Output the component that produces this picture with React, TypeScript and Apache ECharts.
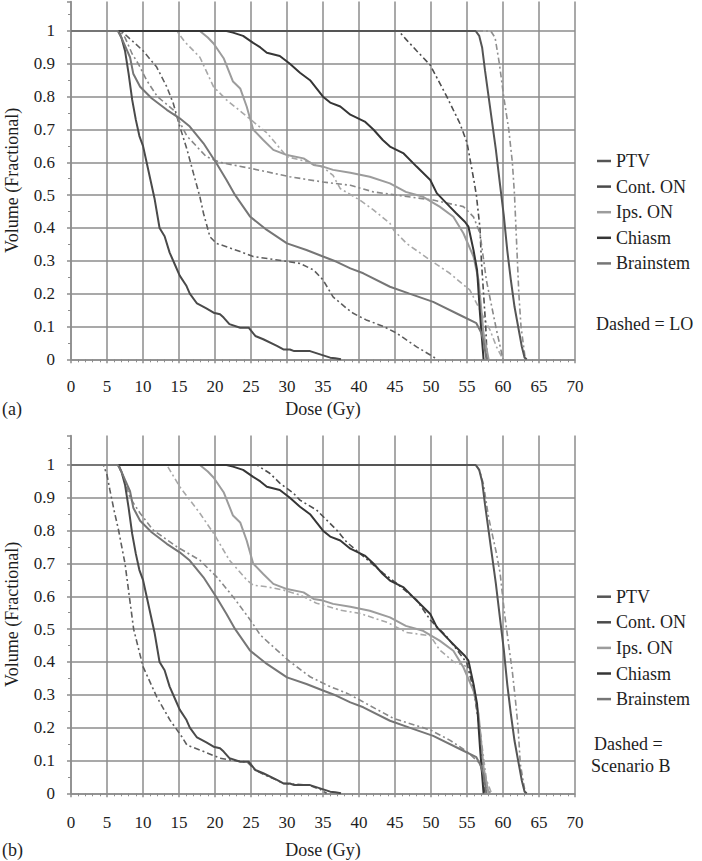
import React, { useEffect, useRef } from "react";
import * as echarts from "echarts";

const FONT = "Liberation Serif";
const GRID_COLOR = "#8c8c8c";
const TEXT_COLOR = "#1e1e1e";

// Axis settings
const doseMin = 0;
const doseMax = 70;
const doseStep = 5;
const volMin = 0;
const volMax = 1.09;
const volStep = 0.1;

const structureNames = ["PTV", "Cont. ON", "Ips. ON", "Chiasm", "Brainstem"];
const solidColors = ["#555555", "#4a4a4a", "#9c9c9c", "#363636", "#767676"];
const dashedColors = ["#8f8f8f", "#5e5e5e", "#a8a8a8", "#4e4e4e", "#888888"];

// ---- Reference plan (solid), identical in both panels: [dose Gy, volume] ----
const ptv = [[0, 1], [56.2, 1], [56.7, 0.985], [57.1, 0.95], [57.5, 0.88], [58, 0.8], [58.5, 0.72], [59, 0.64], [59.6, 0.53], [60.1, 0.44], [60.6, 0.33], [61.1, 0.24], [61.6, 0.16], [62.1, 0.1], [62.6, 0.04], [63, 0.005], [63.3, 0]];
const contON = [[0, 1], [6.6, 1], [7, 0.98], [7.5, 0.94], [8, 0.87], [8.5, 0.79], [9, 0.73], [9.5, 0.68], [10, 0.65], [10.5, 0.6], [11, 0.55], [11.6, 0.49], [12.3, 0.4], [13, 0.375], [13.7, 0.325], [14.5, 0.285], [15.1, 0.255], [16, 0.225], [16.5, 0.2], [17.5, 0.17], [18.8, 0.155], [19.8, 0.142], [20.7, 0.137], [21.2, 0.127], [22, 0.107], [23.5, 0.096], [24.7, 0.096], [25.6, 0.071], [26.7, 0.061], [28.6, 0.041], [29.5, 0.03], [30.4, 0.03], [31, 0.025], [33.2, 0.025], [34.6, 0.015], [36, 0.005], [36.7, 0.003], [37.5, 0]];
const ipsON = [[0, 1], [17.9, 1], [19, 0.98], [19.8, 0.962], [21.2, 0.917], [22.5, 0.846], [23.5, 0.825], [24.4, 0.77], [25.3, 0.7], [26.7, 0.668], [28.1, 0.638], [30, 0.622], [32.3, 0.612], [33.7, 0.592], [35, 0.587], [36.4, 0.577], [38.8, 0.568], [41.5, 0.556], [44.3, 0.536], [46.5, 0.51], [48.9, 0.495], [51.2, 0.465], [53.1, 0.434], [54.5, 0.384], [55.9, 0.313], [56.6, 0.242], [57.3, 0.079], [58, 0]];
const chiasm = [[0, 1], [21.6, 1], [22.5, 0.995], [23.9, 0.985], [25.3, 0.964], [26.3, 0.95], [27.2, 0.934], [29, 0.924], [30.4, 0.9], [31.8, 0.873], [33.2, 0.85], [35, 0.8], [36, 0.782], [37.4, 0.77], [38.8, 0.745], [40.8, 0.724], [42, 0.7], [43.3, 0.668], [44.3, 0.648], [46.2, 0.627], [48, 0.587], [49.9, 0.546], [50.8, 0.506], [52.6, 0.465], [53.5, 0.445], [54.7, 0.419], [55.2, 0.404], [55.9, 0.333], [56.4, 0.272], [56.8, 0.14], [57.3, 0]];
const brainstem = [[0, 1], [6.5, 1], [7, 0.98], [7.6, 0.95], [8.2, 0.92], [8.65, 0.87], [9.6, 0.83], [11.2, 0.795], [13.3, 0.76], [15.1, 0.734], [16.5, 0.709], [18.4, 0.658], [20.2, 0.597], [21.6, 0.546], [22.8, 0.5], [24.9, 0.434], [27.2, 0.394], [30, 0.353], [32.7, 0.333], [35, 0.313], [36.9, 0.297], [38.8, 0.277], [40.6, 0.262], [44.3, 0.221], [47, 0.2], [50.3, 0.175], [54, 0.135], [56.3, 0.11], [57, 0.08], [57.3, 0.055], [57.7, 0]];

// ---- Panel (a): LO plan (dashed) ----
const ptvLO = [[0, 1], [58.3, 1], [58.9, 0.98], [59.5, 0.9], [60.1, 0.8], [60.8, 0.7], [61.3, 0.6], [61.6, 0.5], [61.8, 0.4], [62, 0.3], [62.2, 0.2], [62.5, 0.1], [63.1, 0]];
const contONLO = [[0, 1], [7, 1], [8.5, 0.97], [10, 0.94], [11.9, 0.89], [13.3, 0.83], [14.2, 0.78], [15.1, 0.71], [16.1, 0.64], [17, 0.567], [17.9, 0.495], [18.4, 0.445], [19.3, 0.373], [20.2, 0.353], [21.6, 0.343], [23.5, 0.328], [25.3, 0.313], [29.5, 0.3], [31.8, 0.292], [33.7, 0.272], [35, 0.242], [36.4, 0.19], [38.3, 0.155], [39.2, 0.14], [41, 0.12], [43.4, 0.1], [45.2, 0.08], [48, 0.038], [50.3, 0.008], [50.8, 0]];
const ipsONLO = [[0, 1], [14.7, 1], [15.8, 0.967], [17.9, 0.92], [19.8, 0.83], [21.6, 0.79], [24.4, 0.74], [27.2, 0.69], [30, 0.617], [33.7, 0.597], [35, 0.585], [36.4, 0.56], [37.4, 0.52], [40.1, 0.485], [42, 0.455], [44.3, 0.414], [44.8, 0.394], [46.6, 0.353], [49.9, 0.302], [52.6, 0.262], [55.4, 0.211], [56.8, 0.15], [58.2, 0.089], [59.1, 0.038], [60, 0]];
const chiasmLO = [[0, 1], [45.5, 1], [46.6, 0.973], [48, 0.94], [49.9, 0.896], [51, 0.85], [52.2, 0.8], [53.2, 0.755], [54, 0.719], [55, 0.66], [55.5, 0.6], [56, 0.54], [56.3, 0.5], [56.8, 0.4], [57, 0.3], [57.3, 0.2], [57.6, 0.1], [57.8, 0]];
const brainstemLO = [[0, 1], [6.8, 1], [7.5, 0.98], [8.5, 0.93], [9.35, 0.9], [10.5, 0.85], [12, 0.8], [14.2, 0.76], [16.1, 0.68], [18.8, 0.617], [20.7, 0.6], [25.3, 0.58], [30.4, 0.556], [35, 0.54], [38.8, 0.53], [42, 0.51], [45.2, 0.5], [50.3, 0.485], [54.5, 0.465], [55.9, 0.434], [56.8, 0.384], [57.7, 0.24], [59.1, 0.089], [60, 0]];

// ---- Panel (b): Scenario B (dashed) ----
const ptvB = [[0, 1], [56.3, 1], [56.8, 0.98], [57.3, 0.94], [58, 0.84], [59.1, 0.73], [59.6, 0.67], [60.2, 0.55], [60.8, 0.45], [61.3, 0.37], [61.7, 0.29], [62.1, 0.2], [62.4, 0.09], [63.1, 0]];
const contONB = [[0, 1], [4.5, 1], [5, 0.97], [5.4, 0.924], [6, 0.86], [6.6, 0.802], [7.5, 0.7], [8.1, 0.6], [8.7, 0.5], [10, 0.386], [11.9, 0.294], [13.75, 0.223], [15.4, 0.172], [16.1, 0.147], [17.9, 0.132], [20.7, 0.107], [22.5, 0.1], [24.5, 0.095], [25.5, 0.072], [27, 0.055], [28.6, 0.04], [29.5, 0.03], [33, 0.025], [34.6, 0.012], [35.5, 0]];
const ipsONB = [[0, 1], [13.3, 1], [15.1, 0.934], [17.9, 0.853], [19.8, 0.792], [22, 0.71], [24.4, 0.65], [25.3, 0.634], [27.2, 0.629], [29.5, 0.619], [31.8, 0.604], [34.1, 0.579], [37.4, 0.558], [40.1, 0.548], [44, 0.52], [46.6, 0.49], [49.9, 0.48], [51.2, 0.437], [53.1, 0.401], [55, 0.386], [55.9, 0.335], [56.8, 0.193], [57.7, 0.041], [58.4, 0]];
const chiasmB = [[0, 1], [25.8, 1], [27.6, 0.975], [29, 0.945], [30.9, 0.914], [31.8, 0.893], [34.1, 0.863], [36.9, 0.802], [38.3, 0.765], [40.1, 0.731], [43.4, 0.67], [45.2, 0.64], [48, 0.589], [49.9, 0.528], [52.2, 0.477], [53.6, 0.437], [55, 0.396], [55.9, 0.315], [56.8, 0.193], [57.5, 0]];
const brainstemB = [[0, 1], [6.5, 1], [7.2, 0.97], [8.2, 0.9], [9.6, 0.853], [11.4, 0.802], [14.7, 0.751], [17.9, 0.71], [20.2, 0.66], [22.5, 0.599], [24.9, 0.528], [26.3, 0.482], [28.6, 0.436], [30.4, 0.401], [33.2, 0.355], [36, 0.325], [38.3, 0.305], [40.1, 0.284], [44.8, 0.228], [49.9, 0.193], [52.6, 0.162], [55, 0.127], [56.8, 0.091], [57.5, 0.03], [58.2, 0]];

const solidData = [ptv, contON, ipsON, chiasm, brainstem];
const loData = [ptvLO, contONLO, ipsONLO, chiasmLO, brainstemLO];
const scenarioBData = [ptvB, contONB, ipsONB, chiasmB, brainstemB];

function makeXAxis(gridIndex: number, labelMargin: number, nameGap: number) {
  return {
    type: "value",
    gridIndex,
    min: doseMin,
    max: doseMax,
    interval: doseStep,
    name: "Dose (Gy)",
    nameLocation: "middle",
    nameGap,
    nameTextStyle: { fontFamily: FONT, fontSize: 18, color: TEXT_COLOR },
    axisLine: { show: true, lineStyle: { color: GRID_COLOR, width: 1.5 } },
    axisTick: { show: true, length: 4, lineStyle: { color: GRID_COLOR, width: 1.5 } },
    minorTick: { show: true, splitNumber: 5, length: 3, lineStyle: { color: GRID_COLOR, width: 1 } },
    axisLabel: { margin: labelMargin, fontFamily: FONT, fontSize: 17, color: TEXT_COLOR },
    splitLine: { show: true, lineStyle: { color: GRID_COLOR, width: 1.5 } },
  };
}

function makeYAxis(gridIndex: number) {
  return {
    type: "value",
    gridIndex,
    min: volMin,
    max: volMax,
    interval: volStep,
    name: "Volume (Fractional)",
    nameLocation: "middle",
    nameGap: 50,
    nameTextStyle: { fontFamily: FONT, fontSize: 18, color: TEXT_COLOR },
    axisLine: { show: true, lineStyle: { color: GRID_COLOR, width: 1.5 } },
    axisTick: { show: true, length: 4, lineStyle: { color: GRID_COLOR, width: 1.5 } },
    minorTick: { show: true, splitNumber: 2, length: 3, lineStyle: { color: GRID_COLOR, width: 1 } },
    axisLabel: {
      margin: 16,
      fontFamily: FONT,
      fontSize: 17,
      color: TEXT_COLOR,
      showMaxLabel: false,
      formatter: (v: number) => {
        if (Math.abs(v) < 1e-6) return "0";
        if (Math.abs(v - 1) < 1e-6) return "1";
        if (v > 1.0001) return "";
        return v.toFixed(1);
      },
    },
    splitLine: { show: true, showMaxLine: false, lineStyle: { color: GRID_COLOR, width: 1.5 } },
  };
}

function makeSeries() {
  const out: any[] = [];
  const dash = [6, 3, 2, 3];
  [loData, scenarioBData].forEach((set, panel) => {
    set.forEach((d, i) => {
      out.push({
        name: structureNames[i] + (panel === 0 ? " (LO)" : " (Scenario B)"),
        type: "line",
        xAxisIndex: panel,
        yAxisIndex: panel,
        data: d,
        showSymbol: false,
        symbol: "none",
        lineStyle: { color: dashedColors[i], width: 1.6, type: dash },
        itemStyle: { color: dashedColors[i] },
        z: 2,
      });
    });
    solidData.forEach((d, i) => {
      out.push({
        name: structureNames[i],
        type: "line",
        xAxisIndex: panel,
        yAxisIndex: panel,
        data: d,
        showSymbol: false,
        symbol: "none",
        lineStyle: { color: solidColors[i], width: 2 },
        itemStyle: { color: solidColors[i] },
        z: 3,
      });
    });
  });
  return out;
}

function makeLegend(top: number) {
  return {
    data: structureNames,
    orient: "vertical",
    left: 597,
    top,
    padding: 0,
    itemGap: 7.6,
    itemWidth: 14,
    itemHeight: 2.5,
    icon: "rect",
    selectedMode: false,
    textStyle: { fontFamily: FONT, fontSize: 18, color: TEXT_COLOR, lineHeight: 18 },
  };
}

const textStyle = (text: string) => ({
  text,
  fontFamily: FONT,
  fontSize: 18,
  fill: TEXT_COLOR,
  verticalAlign: "middle",
});

export default function App() {
  const ref = useRef<HTMLDivElement>(null);
  useEffect(() => {
    if (!ref.current) return;
    const chart = echarts.init(ref.current, undefined, { renderer: "svg" });
    const option: any = {
      animation: false,
      backgroundColor: "#ffffff",
      grid: [
        { left: 71, top: 1.45, width: 504, height: 357.85, containLabel: false, outerBoundsMode: "none" },
        { left: 71, top: 435.45, width: 504, height: 357.85, containLabel: false, outerBoundsMode: "none" },
      ],
      xAxis: [makeXAxis(0, 19, 41), makeXAxis(1, 21, 48)],
      yAxis: [makeYAxis(0), makeYAxis(1)],
      legend: [makeLegend(152), makeLegend(587.7)],
      series: makeSeries(),
      graphic: [
        { type: "text", x: 2, y: 409, style: textStyle("(a)") },
        { type: "text", x: 2, y: 850, style: textStyle("(b)") },
        { type: "text", x: 596, y: 324, style: textStyle("Dashed = LO") },
        { type: "text", x: 594, y: 744.3, style: textStyle("Dashed =") },
        { type: "text", x: 591, y: 765.7, style: textStyle("Scenario B") },
      ],
    };
    chart.setOption(option);
    return () => chart.dispose();
  }, []);
  return (
    <div
      ref={ref}
      style={{ position: "absolute", left: 0, top: 0, width: 702, height: 861, background: "#fff" }}
    />
  );
}
